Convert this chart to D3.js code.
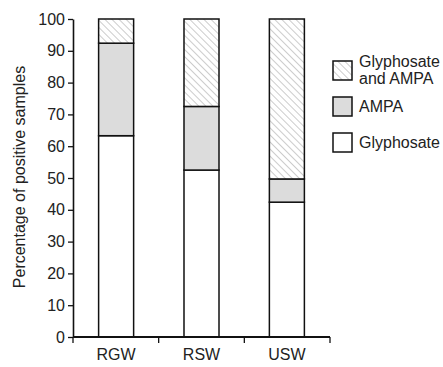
<!DOCTYPE html>
<html>
<head>
<meta charset="utf-8">
<script src="https://cdn.jsdelivr.net/npm/d3@7"></script>
<style>
  body { margin: 0; background: #fff; }
  svg { display: block; }
  text { font-family: "Liberation Sans", Arial, sans-serif; fill: #222; }
</style>
</head>
<body>
<div id="chart"></div>
<script>
var w = 443;
var h = 367;

// data
var sites = ["RGW", "RSW", "USW"];
var glyphosate = [63.3, 52.5, 42.4];
var ampa = [29.1, 20.0, 7.3];
var both = [7.6, 27.5, 50.3];
var yTicks = [0, 10, 20, 30, 40, 50, 60, 70, 80, 90, 100];
var legendLabels = [["Glyphosate", "and AMPA"], ["AMPA"], ["Glyphosate"]];

var mLeft = 73, mTop = 19, plotRight = 330, mBottom = 337;

var svg = d3.select("#chart")
  .append("svg")
  .attr("width", w)
  .attr("height", h);

var defs = svg.append("defs");
var pat = defs.append("pattern")
  .attr("id", "hatch")
  .attr("patternUnits", "userSpaceOnUse")
  .attr("width", 5)
  .attr("height", 5)
  .attr("patternTransform", "rotate(-45)");
pat.append("rect").attr("width", 5).attr("height", 5).attr("fill", "#fff");
pat.append("line")
  .attr("x1", 0).attr("y1", 0).attr("x2", 0).attr("y2", 5)
  .attr("stroke", "#aaa")
  .attr("stroke-width", 1.2);

var x = d3.scaleBand()
  .domain(sites)
  .range([mLeft, plotRight])
  .paddingInner(0.59)
  .paddingOuter(0.3);

var y = d3.scaleLinear()
  .domain([0, 100])
  .range([mBottom, mTop]);

var layers = [
  { key: "glyphosate", values: glyphosate, fill: "#fff" },
  { key: "ampa", values: ampa, fill: "#dcdcdc" },
  { key: "both", values: both, fill: "url(#hatch)" }
];

sites.forEach(function(s, i) {
  var base = 0;
  layers.forEach(function(l) {
    var v = l.values[i];
    svg.append("rect")
      .attr("x", x(s))
      .attr("width", x.bandwidth())
      .attr("y", y(base + v))
      .attr("height", y(base) - y(base + v))
      .attr("fill", l.fill)
      .attr("stroke", "#111")
      .attr("stroke-width", 1.5);
    base += v;
  });
});

// y axis
var yAxis = svg.append("g")
  .attr("transform", "translate(" + mLeft + ",0)")
  .call(d3.axisLeft(y).tickValues(yTicks).tickSize(5).tickPadding(3).tickSizeOuter(0));
yAxis.select(".domain").attr("stroke", "#111").attr("stroke-width", 1.6);
yAxis.selectAll(".tick line").attr("stroke", "#111").attr("stroke-width", 1.3);
yAxis.selectAll(".tick text")
  .style("font-size", "16px")
  .style("font-family", "'Liberation Sans', Arial, sans-serif")
  .attr("fill", "#222");

// x axis
var xAxis = svg.append("g")
  .attr("transform", "translate(0," + mBottom + ")");
xAxis.append("line")
  .attr("x1", mLeft).attr("x2", plotRight)
  .attr("y1", 0).attr("y2", 0)
  .attr("stroke", "#111").attr("stroke-width", 2);
var step = (plotRight - mLeft) / sites.length;
d3.range(sites.length + 1).forEach(function(k) {
  xAxis.append("line")
    .attr("x1", mLeft + k * step).attr("x2", mLeft + k * step)
    .attr("y1", 0).attr("y2", 6)
    .attr("stroke", "#111").attr("stroke-width", 1.3);
});
xAxis.selectAll("text.cat")
  .data(sites)
  .enter()
  .append("text")
  .attr("class", "cat")
  .attr("x", function(d) { return x(d) + x.bandwidth() / 2; })
  .attr("y", 23)
  .attr("text-anchor", "middle")
  .style("font-size", "16px")
  .text(function(d) { return d; });

// y label
svg.append("text")
  .attr("transform", "translate(25,177) rotate(-90)")
  .attr("text-anchor", "middle")
  .style("font-size", "16px")
  .text("Percentage of positive samples");

// legend
var legendFills = ["url(#hatch)", "#dcdcdc", "#fff"];
var legendY = [61, 97, 133];
legendLabels.forEach(function(lines, i) {
  svg.append("rect")
    .attr("x", 333).attr("y", legendY[i])
    .attr("width", 19).attr("height", 19)
    .attr("fill", legendFills[i])
    .attr("stroke", "#111").attr("stroke-width", 1.5);
  var t = svg.append("text")
    .attr("x", 359)
    .style("font-size", "16px");
  if (lines.length == 2) {
    lines.forEach(function(ln, j) {
      t.append("tspan").attr("x", 359).attr("y", legendY[i] + 6 + j * 17).text(ln);
    });
  } else {
    t.attr("y", legendY[i] + 15).text(lines[0]);
  }
});
</script>
</body>
</html>
